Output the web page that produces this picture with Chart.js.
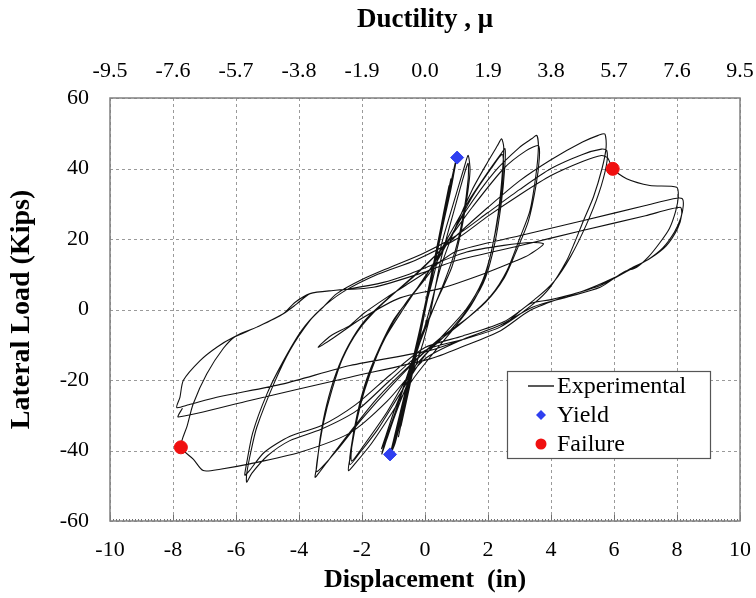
<!DOCTYPE html>
<html>
<head>
<meta charset="utf-8">
<script src="https://cdn.jsdelivr.net/npm/chart.js@4/dist/chart.umd.min.js"></script>
<style>
html,body{margin:0;padding:0;background:#fff;}
#wrap{width:756px;height:598px;}
</style>
</head>
<body>
<div id="wrap"><canvas id="c" width="756" height="598"></canvas></div>
<script>
// ---- DATA ----
const ductilityLabels = ["-9.5","-7.6","-5.7","-3.8","-1.9","0.0","1.9","3.8","5.7","7.6","9.5"];

const cycElastic = [
 [0,0],[0.15,7],[0.3,14],[0.22,10],[0.05,2],[-0.14,-6],[-0.3,-13],[-0.22,-9],[-0.05,-1],
 [0.15,7],[0.33,15],[0.24,11],[0.05,2],[-0.15,-7],[-0.33,-15],[-0.22,-10],[-0.04,-1],
 [0.25,12],[0.52,24],[0.4,18],[0.1,4],[-0.2,-9],[-0.52,-23],[-0.4,-17],[-0.1,-3],
 [0.25,12],[0.54,25],[0.4,18],[0.08,3],[-0.22,-10],[-0.54,-24],[-0.4,-17],[-0.08,-2],
 [0.35,16],[0.74,34],[0.58,27],[0.15,6],[-0.3,-13],[-0.74,-32],[-0.58,-25],[-0.15,-5],
 [0.35,16],[0.76,35],[0.58,27],[0.12,5],[-0.3,-14],[-0.76,-33],[-0.58,-25],[-0.12,-4],
 [0.4,18],[0.82,37],[0.66,30],[0.18,8],[-0.28,-12],[-0.84,-36],[-0.68,-29],[-0.16,-6]
];
const cycYield = [
 [0.3,13],[0.7,31],[0.92,40],[1.0,43],[0.88,37],[0.6,26],[0.2,8],[-0.2,-8],[-0.6,-25],[-0.95,-38],[-1.1,-41],[-0.97,-36],[-0.62,-23],[-0.2,-7],
 [0.25,11],[0.65,29],[0.88,38],[0.95,40.5],[0.82,34],[0.5,21],[0.1,4],[-0.3,-12],[-0.7,-28],[-0.97,-38],[-1.02,-39.5],[-0.86,-33],[-0.5,-19],[-0.1,-3],
 [0.28,12],[0.68,30],[0.9,39],[0.97,41.5],[0.85,36],[0.55,23],[0.14,6],[-0.26,-10],[-0.66,-27],[-0.96,-37.5],[-1.05,-40],[-0.9,-34],[-0.55,-21],[-0.12,-4]
];
const cyc14 = [
 [0.2,7],[0.6,21],[1.0,33],[1.25,40.5],[1.37,43.7],[1.43,39.4],[1.32,31],[1.12,21],[0.85,12],[0.35,2],[-0.15,-8],[-0.65,-21],[-1.05,-32],[-1.3,-38.5],[-1.37,-41],[-1.22,-37],[-0.95,-30],[-0.6,-22],[-0.26,-15],[0.1,-4],
 [0.5,14],[0.95,29],[1.25,38.5],[1.37,41.5],[1.37,37],[1.22,27],[0.97,17],[0.62,8],[0.12,-3],[-0.4,-15],[-0.9,-28],[-1.2,-35.5],[-1.38,-39.5],[-1.25,-36],[-0.95,-28],[-0.58,-20],[-0.22,-11],[0.15,0]
];
const cyc25 = [
 [0.5,12],[1.0,24],[1.5,34],[2.0,42],[2.3,46.5],[2.43,48.4],[2.5,46],[2.44,37],[2.32,27],[2.12,17],[1.85,8],[1.45,1],[0.95,-5],[0.3,-12],[-0.4,-20],[-1.1,-30],[-1.7,-38],[-2.2,-43.5],[-2.43,-45.7],[-2.38,-42],[-2.2,-33],[-1.92,-23],[-1.52,-13],[-1.1,-5],[-0.6,2],
 [0.0,9],[0.7,20],[1.4,31],[2.0,39],[2.4,44],[2.54,45.6],[2.53,40],[2.42,30],[2.22,19],[1.92,9],[1.5,2],[0.8,-6],[0.0,-13],[-0.8,-24],[-1.5,-34],[-2.1,-41],[-2.38,-44],[-2.36,-40],[-2.16,-30],[-1.86,-20],[-1.45,-11],[-1.0,-3],[-0.5,3],
 [0.2,11],[0.9,22],[1.5,32],[2.1,40],[2.45,44],[2.49,40],[2.37,29],[2.12,17],[1.82,8],[1.3,0],[0.5,-8],[-0.4,-17],[-1.2,-29],[-1.9,-38],[-2.33,-43],[-2.31,-38],[-2.06,-27],[-1.72,-17],[-1.26,-8],[-0.7,0]
];
const cyc36 = [
 [-0.1,8],[0.5,16],[1.3,28],[2.2,39],[3.0,46],[3.4,48.5],[3.55,49.4],[3.6,46],[3.52,38],[3.33,28],[3.02,20.5],[2.6,11],[2.1,4],[1.4,-2],[0.5,-8],[-0.5,-16],[-1.5,-25],[-2.4,-35],[-3.0,-42],[-3.38,-46.5],[-3.49,-47.6],[-3.44,-44.7],[-3.32,-36],[-3.12,-27],[-2.82,-18],[-2.42,-10],[-1.9,-3],[-1.2,3],
 [-0.4,9],[0.5,17],[1.5,29],[2.5,40],[3.2,45],[3.6,46.5],[3.63,43],[3.52,35],[3.28,25],[2.92,17],[2.52,9],[1.92,2],[1.0,-5],[0.0,-12],[-1.0,-21],[-2.0,-31],[-2.8,-40],[-3.3,-45],[-3.45,-46],[-3.41,-42],[-3.22,-32],[-2.96,-23],[-2.62,-14],[-2.12,-6],[-1.42,1]
];
const cyc57 = [
 [-0.3,10],[1,21],[2,29],[3,36.5],[4,42.5],[5,47.5],[5.5,49.4],[5.71,49.8],[5.75,46],[5.62,40],[5.35,32],[5.03,25.2],[4.75,19],[4.5,13.9],[3.97,6.3],[3.44,1.6],[2.38,-5],[1.2,-8.5],[0,-11.6],[-1.1,-20],[-2.17,-28.7],[-3.3,-34],[-4.29,-37.2],[-5.0,-41.5],[-5.5,-46.5],[-5.66,-49],[-5.66,-46.6],[-5.52,-40],[-5.34,-33.4],[-4.8,-21.1],[-4.29,-11.6],[-3.65,-3.1],[-3.23,0.7],[-2.8,4.5],[-2.0,8.5],[-1.1,12],[-0.06,15.9],
 [1,21],[2,27.5],[3,34],[4,40],[5,44],[5.6,45.5],[5.77,45.1],[5.76,41],[5.52,33],[5.12,24],[4.62,15],[4.1,8],[3.5,3],[2.5,-3.5],[1.2,-7.5],[0,-10.8],[-1.1,-18.5],[-2.2,-27],[-3.3,-33],[-4.3,-36],[-5.1,-40.5],[-5.6,-46],[-5.72,-47],[-5.67,-44],[-5.47,-35],[-5.02,-24],[-4.52,-15],[-3.92,-6],[-3.32,0],[-2.6,5],[-1.5,10],[-0.3,14]
];
const cyc8a = [
 [1,20],[2,26.5],[3,32.5],[4,38],[5,42],[5.6,43.7],[5.8,43],[5.96,39.9],[6.4,37.1],[7.14,35.2],[7.99,34.7],[8.04,32],[7.96,28],[7.76,23],[7.46,19],[7.1,15],[6.72,12],[6.3,10.6],[5.56,6.3],[4.5,3.5],[3.43,0.7],[2.38,-4.5],[1.2,-8.5],[0,-14],[-1.2,-26],[-2.38,-35],[-3.97,-40.5],[-5.56,-43.8],[-6.5,-45.3],[-7.04,-45.7],[-7.35,-42.5],[-7.75,-39],
 [-7.55,-33],[-7.36,-26.8],[-6.93,-18.3],[-6.4,-11],[-6.0,-7.5],[-5.34,-5],[-4.5,-1.2],[-4.13,2],[-3.65,4.5],[-2.91,5.4],[-2.38,5.9],[-1.32,7.7],[-0.48,10.1],[0.05,12]
];
const cycSmall = [
 [1.32,16.3],[2.5,18.2],[3.4,19],[3.76,18.6],[3.3,15.5],[2.91,13.9],[1.85,10.1],[0.5,6],[-0.79,3.3],[-2.0,-2.5],[-2.9,-8],[-3.39,-10.7],[-3.0,-7.5],[-2.38,-4.5],[-1.96,-1.2],[-1.2,3.5],[-0.5,7.5],[0.1,11]
];
const cycFinal = [
 [1,16.5],[3,20.9],[5,25.2],[7,29.5],[7.88,31.4],[8.16,31.5],[8.2,29.5],[8.12,26],[7.92,22],[7.55,17.5],[7.05,14],[6.6,12],[6.0,9],[5.0,5.2],[4.0,2.8],[3.33,1.6],[2.38,-5],[1.2,-8.5],[0.16,-11.6],[-2.38,-15.9],[-4.5,-21.1],[-6.61,-24.9],[-7.5,-27],[-7.88,-27.8],
 [-7.78,-24.9],[-7.67,-20.1],[-7.14,-14.5],[-6.61,-10.7],[-6.08,-7.9],[-5.34,-5],[-4.5,-1.2],[-4.07,1.6],[-3.65,4.5],[-2.91,5.4],[-1.64,6.3],[-0.05,10.5],[1,13.9],[3,18.1],[5,22.4],[7,26.6],[8.1,29],[8.15,27],[8.02,23],[7.65,18],[7.15,14.5],[6.65,12],[5.56,6.8],[4.5,3.8],[3.33,-0.3],[2.4,-6],[1.2,-10.5],[0.16,-14],[-2.38,-19.2],[-5.56,-25.8],[-7.83,-30.5],[-7.7,-28]
];
const yieldDisp = [1.02, -1.11];
const yieldLoad = [43.1, -41.1];
const failDisp = [5.96, -7.75];
const failLoad = [39.9, -39.1];

// ---- build datasets ----
const expPath = [].concat(cycElastic, cycYield, cyc14, cyc25, cyc36, cyc57, cyc8a, cycSmall, cycFinal)
  .map(p => ({x: p[0], y: p[1]}));
const yieldPts = yieldDisp.map((x, i) => ({x, y: yieldLoad[i]}));
const failPts = failDisp.map((x, i) => ({x, y: failLoad[i]}));

const SERIF = '"Liberation Serif", "Times New Roman", serif';

const frameGridLegend = {
  id: 'frameGridLegend',
  beforeDatasetsDraw(chart) {
    const {ctx, chartArea: a, scales} = chart;
    ctx.save();
    ctx.strokeStyle = '#9a9a9a';
    ctx.lineWidth = 1;
    ctx.setLineDash([3, 3]);
    ctx.beginPath();
    scales.x.ticks.forEach(t => {
      const px = Math.round(scales.x.getPixelForValue(t.value)) + 0.5;
      ctx.moveTo(px, a.top); ctx.lineTo(px, a.bottom);
    });
    scales.y.ticks.forEach(t => {
      const py = Math.round(scales.y.getPixelForValue(t.value)) + 0.5;
      ctx.moveTo(a.left, py); ctx.lineTo(a.right, py);
    });
    ctx.stroke();
    ctx.setLineDash([]);
    ctx.strokeStyle = '#707070';
    ctx.beginPath();
    for (let v = scales.x.min; v <= scales.x.max + 1e-9; v += 0.1) {
      const px = Math.round(scales.x.getPixelForValue(v)) + 0.5;
      ctx.moveTo(px, a.bottom); ctx.lineTo(px, a.bottom - 2);
    }
    scales.x.ticks.forEach(t => {
      const px = Math.round(scales.x.getPixelForValue(t.value)) + 0.5;
      ctx.moveTo(px, a.bottom); ctx.lineTo(px, a.bottom - 6);
    });
    ctx.stroke();
    ctx.strokeStyle = '#808080';
    ctx.lineWidth = 1.5;
    ctx.strokeRect(a.left, a.top, a.right - a.left, a.bottom - a.top);
    ctx.restore();
  },
  afterDraw(chart) {
    const {ctx} = chart;
    const bx = 507, by = 371, bw = 203, bh = 87;
    ctx.save();
    ctx.fillStyle = '#fff';
    ctx.fillRect(bx, by, bw, bh);
    ctx.strokeStyle = '#555';
    ctx.lineWidth = 1.2;
    ctx.strokeRect(bx + 0.5, by + 0.5, bw, bh);
    const ds = chart.data.datasets;
    ctx.font = '24px ' + SERIF;
    ctx.fillStyle = '#000';
    ctx.textBaseline = 'middle';
    ctx.strokeStyle = '#222';
    ctx.lineWidth = 1.5;
    ctx.beginPath(); ctx.moveTo(528, 386); ctx.lineTo(554, 386); ctx.stroke();
    ctx.fillText(ds[0].label, 557, 387);
    ctx.fillStyle = '#2f3ff0';
    ctx.beginPath(); ctx.moveTo(541, 410); ctx.lineTo(546, 415); ctx.lineTo(541, 420); ctx.lineTo(536, 415); ctx.closePath(); ctx.fill();
    ctx.fillStyle = '#000';
    ctx.fillText(ds[1].label, 557, 416);
    ctx.fillStyle = '#f01010';
    ctx.beginPath(); ctx.arc(541, 444, 5.5, 0, Math.PI * 2); ctx.fill();
    ctx.fillStyle = '#000';
    ctx.fillText(ds[2].label, 557, 445);
    ctx.restore();
  }
};

function noSidePad(s) { s.paddingLeft = 0; s.paddingRight = 0; }

new Chart(document.getElementById('c'), {
  type: 'scatter',
  data: {
    datasets: [
      {label: 'Experimental', data: expPath, showLine: true, borderColor: '#111', borderWidth: 1.1,
       pointRadius: 0, tension: 0.25, fill: false, order: 3},
      {label: 'Yield', data: yieldPts, pointStyle: 'rectRot', pointRadius: 6.5, backgroundColor: '#2f3ff0',
       borderColor: '#2f3ff0', showLine: false, order: 1},
      {label: 'Failure', data: failPts, pointStyle: 'circle', pointRadius: 6.5, backgroundColor: '#f01010',
       borderColor: '#f01010', showLine: false, order: 1}
    ]
  },
  options: {
    responsive: false,
    animation: false,
    layout: {padding: {left: 0, right: 16, top: 0, bottom: 0}},
    plugins: {legend: {display: false}, tooltip: {enabled: false}},
    scales: {
      x: {
        type: 'linear', position: 'bottom', min: -10, max: 10,
        afterFit(s) { s.height = 77; noSidePad(s); },
        ticks: {stepSize: 2, color: '#000', font: {family: SERIF, size: 22}, padding: 16, maxRotation: 0},
        grid: {display: false, drawTicks: false},
        border: {display: false},
        title: {display: true, text: 'Displacement  (in)', color: '#000',
                font: {family: SERIF, size: 26, weight: 'bold'}, padding: {top: 0, bottom: 2}}
      },
      x2: {
        type: 'linear', position: 'top', min: -10, max: 10,
        afterFit(s) { s.height = 98; noSidePad(s); },
        ticks: {stepSize: 2, color: '#000', font: {family: SERIF, size: 22}, padding: 14, maxRotation: 0,
                callback: (v) => ductilityLabels[Math.round((v + 10) / 2)]},
        grid: {display: false, drawTicks: false},
        border: {display: false},
        title: {display: true, text: 'Ductility , μ', color: '#000',
                font: {family: SERIF, size: 27, weight: 'bold'}, padding: {top: 4, bottom: 0}}
      },
      y: {
        type: 'linear', position: 'left', min: -60, max: 60,
        afterFit(s) { s.width = 110; },
        ticks: {stepSize: 20, color: '#000', font: {family: SERIF, size: 22}, padding: 21},
        grid: {display: false, drawTicks: false},
        border: {display: false},
        title: {display: true, text: 'Lateral Load (Kips)', color: '#000',
                font: {family: SERIF, size: 28, weight: 'bold'}, padding: {top: 5, bottom: 0}}
      }
    }
  },
  plugins: [frameGridLegend]
});
</script>
</body>
</html>
